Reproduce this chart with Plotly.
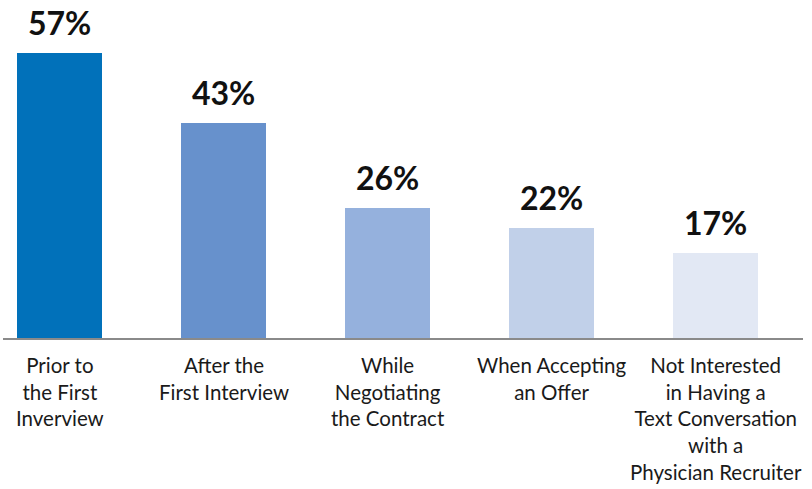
import plotly.graph_objects as go

# Survey stages and share of respondents
categories = [
    "Prior to<br>the First<br>Inverview",
    "After the<br>First Interview",
    "While<br>Negotiating<br>the Contract",
    "When Accepting<br>an Offer",
    "Not Interested<br>in Having a<br>Text Conversation<br>with a<br>Physician Recruiter",
]
values = [57, 43, 26, 22, 17]
bar_colors = ["#0171BA", "#6791CC", "#95B1DD", "#C1D0E9", "#E2E8F4"]

positions = list(range(len(categories)))

fig = go.Figure(
    go.Bar(
        x=positions,
        y=values,
        width=0.52,
        marker=dict(color=bar_colors, line=dict(width=0)),
        hoverinfo="skip",
    )
)

# Value labels above each bar
for xi, v in zip(positions, values):
    fig.add_annotation(
        x=xi, y=v, xref="x", yref="y",
        text=f"<b>{v}%</b>",
        showarrow=False, yanchor="bottom", yshift=9,
        font=dict(family="Lato", size=32, color="#111111"),
    )

# Category labels under the axis line
for xi, c in zip(positions, categories):
    fig.add_annotation(
        x=xi, y=0, xref="x", yref="y",
        text=c,
        showarrow=False, yanchor="top", yshift=-13,
        align="center",
        font=dict(family="Lato", size=20.5, color="#1a1a1a"),
    )

fig.update_layout(
    width=812, height=489,
    margin=dict(l=3, r=9, t=0, b=151),
    paper_bgcolor="white", plot_bgcolor="white",
    showlegend=False,
    bargap=0,
    xaxis=dict(
        range=[-0.3445, 4.5335],
        showticklabels=False, ticks="",
        showgrid=False, zeroline=False,
        showline=True, linecolor="#8a8a8a", linewidth=1.5,
        fixedrange=True,
    ),
    yaxis=dict(
        range=[0, 67.6],
        visible=False, showgrid=False, zeroline=False,
        fixedrange=True,
    ),
)

fig.write_html("out.html")
